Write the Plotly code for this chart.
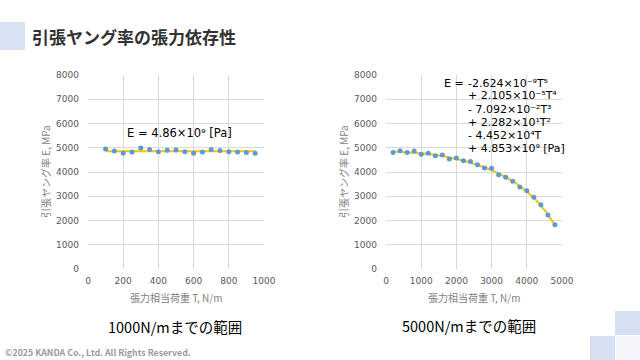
import numpy as np
import plotly.graph_objects as go

# ---- data ----
t_low = [100, 150, 200, 250, 300, 350, 400, 450, 500, 550, 600, 650, 700, 750, 800, 850, 900, 950]
e_low = [4950, 4870, 4770, 4820, 4990, 4930, 4830, 4900, 4910, 4830, 4770, 4820, 4930, 4890, 4830, 4820, 4800, 4770]
e_low_fit = 4860  # MPa

t_high = [200, 400, 600, 800, 1000, 1200, 1400, 1600, 1800, 2000, 2200, 2400,
          2600, 2800, 3000, 3200, 3400, 3600, 3800, 4000, 4200, 4400, 4600, 4800]
e_high = [4800, 4880, 4800, 4870, 4730, 4770, 4670, 4700, 4540, 4580, 4460, 4430,
          4300, 4160, 4150, 3890, 3780, 3620, 3380, 3230, 2960, 2650, 2230, 1820]
# displayed polynomial trendline coefficients (Pa), highest order first
poly_coef = [-2.624e-9, 2.105e-5, -7.092e-2, 2.282e1, -4.452e4, 4.853e9]

x_ticks_low = [0, 200, 400, 600, 800, 1000]
x_ticks_high = [0, 1000, 2000, 3000, 4000, 5000]
y_ticks = [0, 1000, 2000, 3000, 4000, 5000, 6000, 7000, 8000]

eq_lines = ["-2.624×10⁻⁹T⁵",
            "+ 2.105×10⁻⁵T⁴",
            "- 7.092×10⁻²T³",
            "+ 2.282×10¹T²",
            "- 4.452×10⁴T",
            "+ 4.853×10⁹ [Pa]"]

JP = "Noto Sans CJK JP"
NUM = "DejaVu Sans"
GRAY = "#595959"
LGRAY = "#7F7F7F"
GRID = "#D9D9D9"
BLUE = "#5B9BD5"
ORANGE = "#FFC000"

W, H = 640, 360
def fx(px): return px / W
def fy(py): return 1 - py / H

fig = go.Figure()

# left chart
fig.add_trace(go.Scatter(x=[t_low[0], t_low[-1]], y=[e_low_fit, e_low_fit], mode="lines",
                         line=dict(color=ORANGE, width=2), xaxis="x", yaxis="y", showlegend=False))
fig.add_trace(go.Scatter(x=t_low, y=e_low, mode="markers", marker=dict(color=BLUE, size=5),
                         xaxis="x", yaxis="y", showlegend=False))

# right chart
tc = np.linspace(t_high[0], t_high[-1], 200)
ec = np.polyval(poly_coef, tc) / 1e6
fig.add_trace(go.Scatter(x=tc, y=ec, mode="lines", line=dict(color=ORANGE, width=2),
                         xaxis="x2", yaxis="y2", showlegend=False))
fig.add_trace(go.Scatter(x=t_high, y=e_high, mode="markers", marker=dict(color=BLUE, size=5),
                         xaxis="x2", yaxis="y2", showlegend=False))

axis_common = dict(showgrid=True, gridcolor=GRID, gridwidth=1, zeroline=False, showline=False,
                   tickfont=dict(family=NUM, size=9, color=GRAY), ticks="", automargin=False)
ydom = [fy(269), fy(75)]
fig.update_layout(
    xaxis=dict(domain=[fx(88), fx(264)], range=[0, 1000], tickvals=x_ticks_low, anchor="y",
               ticklabelstandoff=5, **axis_common),
    yaxis=dict(domain=ydom, range=[0, 8000], tickvals=y_ticks, anchor="x",
               ticklabelstandoff=8, **axis_common),
    xaxis2=dict(domain=[fx(386), fx(562)], range=[0, 5000], tickvals=x_ticks_high, anchor="y2",
                ticklabelstandoff=5, **axis_common),
    yaxis2=dict(domain=ydom, range=[0, 8000], tickvals=y_ticks, anchor="x2",
                ticklabelstandoff=8, **axis_common),
    width=W, height=H, margin=dict(l=0, r=0, t=0, b=0),
    paper_bgcolor="white", plot_bgcolor="white",
    font=dict(family=JP),
)

shapes = [
    dict(type="rect", xref="paper", yref="paper", x0=fx(0), x1=fx(25), y0=fy(50), y1=fy(22),
         fillcolor="#DAE3F3", line=dict(width=0), layer="below"),
    dict(type="rect", xref="paper", yref="paper", x0=fx(615), x1=fx(640), y0=fy(335), y1=fy(311),
         fillcolor="#D6E0F2", line=dict(width=0), layer="below"),
    dict(type="rect", xref="paper", yref="paper", x0=fx(590), x1=fx(615), y0=fy(360), y1=fy(336),
         fillcolor="#D6E0F2", line=dict(width=0), layer="below"),
    dict(type="rect", xref="paper", yref="paper", x0=fx(616), x1=fx(640), y0=fy(360), y1=fy(336),
         fillcolor="#F3F5FB", line=dict(width=0), layer="below"),
]
fig.update_layout(shapes=shapes)

ann = [
    dict(text="<b>引張ヤング率の張力依存性</b>", x=fx(30), y=fy(37), xanchor="left", yanchor="middle",
         font=dict(family=JP, size=17, color="#333333")),
    dict(text="E = 4.86×10⁹ [Pa]", x=fx(125), y=fy(133), xanchor="left", yanchor="middle",
         font=dict(family=NUM, size=11.5, color="#000000")),
    dict(text="E =", x=fx(442), y=fy(83), xanchor="left", yanchor="middle",
         font=dict(family=NUM, size=11, color="#000000")),
    dict(text="1000N/mまでの範囲", x=fx(175), y=fy(326), xanchor="center", yanchor="middle",
         font=dict(family=JP, size=14.5, color="#000000")),
    dict(text="5000N/mまでの範囲", x=fx(469), y=fy(325), xanchor="center", yanchor="middle",
         font=dict(family=JP, size=14.5, color="#000000")),
    dict(text="<b>©2025 KANDA Co., Ltd. All Rights Reserved.</b>", x=fx(3), y=fy(352), xanchor="left",
         yanchor="middle", font=dict(family=JP, size=8.8, color="#9A9A9A")),
    # axis titles
    dict(text="張力相当荷重 T, N/m", x=fx(176), y=fy(297), xanchor="center", yanchor="middle",
         font=dict(family=JP, size=10, color=LGRAY)),
    dict(text="張力相当荷重 T, N/m", x=fx(474), y=fy(297), xanchor="center", yanchor="middle",
         font=dict(family=JP, size=10, color=LGRAY)),
    dict(text="引張ヤング率 E, MPa", x=fx(45), y=fy(172), xanchor="center", yanchor="middle",
         textangle=-90, font=dict(family=JP, size=10, color=LGRAY)),
    dict(text="引張ヤング率 E, MPa", x=fx(343), y=fy(172), xanchor="center", yanchor="middle",
         textangle=-90, font=dict(family=JP, size=10, color=LGRAY)),
]
line_y = [83, 96, 109, 122, 135, 148]
for txt, yy in zip(eq_lines, line_y):
    ann.append(dict(text=txt, x=fx(466), y=fy(yy), xanchor="left", yanchor="middle",
                    font=dict(family=NUM, size=11, color="#000000")))
for a in ann:
    a.update(xref="paper", yref="paper", showarrow=False)
fig.update_layout(annotations=ann)

fig.write_html("out.html", config={"displayModeBar": False},
               post_script="document.body.style.margin='0';document.body.style.overflow='hidden';")
